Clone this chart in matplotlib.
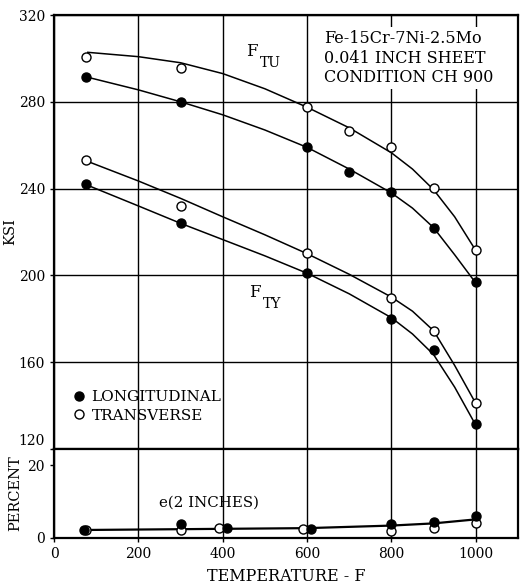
import matplotlib
matplotlib.use('Agg')
import matplotlib.pyplot as plt
import matplotlib.transforms as mtransforms
from matplotlib.lines import Line2D

plt.rcParams['font.family'] = ['DejaVu Serif']

# measured points
ftu_t_x = [75, 300, 600, 700, 800, 900, 1000]
ftu_t_y = [300.5, 295.5, 277.5, 266.5, 259, 240.5, 211.5]
ftu_l_x = [75, 300, 600, 700, 800, 900, 1000]
ftu_l_y = [291.5, 280, 259, 247.5, 238.5, 222, 197]

fty_t_x = [75, 300, 600, 800, 900, 1000]
fty_t_y = [253, 232, 210.5, 189.5, 174.5, 141]
fty_l_x = [75, 300, 600, 800, 900, 1000]
fty_l_y = [242, 224, 201, 180, 165.5, 131.5]

elong_l_x = [70, 300, 410, 610, 800, 900, 1000]
elong_l_y = [2.2, 3.8, 2.8, 2.5, 3.8, 4.5, 6.0]
elong_t_x = [75, 300, 390, 590, 800, 900, 1000]
elong_t_y = [2.2, 2.2, 2.8, 2.5, 1.9, 2.7, 4.0]

# faired curves
curve_x = [80, 200, 300, 400, 500, 600, 700, 800, 850, 900, 950, 1000]
ftu_t_curve = [302.8, 300.8, 298, 293, 286, 277.5, 268, 256.5, 249, 239.5, 227, 211.5]
ftu_l_curve = [291.3, 285.5, 280, 274, 267, 259, 249, 238, 231, 222, 209.5, 196.5]
fty_t_curve = [252.5, 243.5, 235.5, 227, 218.7, 210, 200.5, 190, 183.5, 174.5, 158.5, 141]
fty_l_curve = [241.5, 232, 224, 216.5, 209, 201, 191.5, 180.5, 173, 163.5, 148.5, 131]

elong_curve_x = [80, 600, 800, 900, 1000]
elong_curve_y = [2.2, 2.7, 3.4, 4.0, 5.1]

xticks = [0, 200, 400, 600, 800, 1000]
ksi_ticks = [120, 160, 200, 240, 280, 320]
pct_ticks = [0, 20]

fig = plt.figure(figsize=(5.2, 5.84), dpi=100)
ax = fig.add_axes([0.104, 0.2312, 0.892, 0.7431])
ax2 = fig.add_axes([0.104, 0.0788, 0.892, 0.1524], sharex=ax)

lw = 1.1
ms = 6.5
for a in (ax, ax2):
    for s in a.spines.values():
        s.set_linewidth(1.6)
    a.tick_params(direction='out', length=3, width=1, labelsize=10)
    a.set_xlim(0, 1100)
    a.set_xticks(xticks)
    a.grid(True, color='black', linewidth=1.0)
    a.set_axisbelow(True)

ax.set_ylim(120, 320)
ax.set_yticks(ksi_ticks)
ax.tick_params(labelbottom=False, bottom=False)

# curves
ax.plot(curve_x, ftu_t_curve, color='black', lw=lw)
ax.plot(curve_x, ftu_l_curve, color='black', lw=lw)
ax.plot(curve_x, fty_t_curve, color='black', lw=lw)
ax.plot(curve_x, fty_l_curve, color='black', lw=lw)

ax.plot(ftu_t_x, ftu_t_y, 'o', ms=ms, mfc='white', mec='black', mew=1.0)
ax.plot(fty_t_x, fty_t_y, 'o', ms=ms, mfc='white', mec='black', mew=1.0)
ax.plot(ftu_l_x, ftu_l_y, 'o', ms=ms, mfc='black', mec='black')
ax.plot(fty_l_x, fty_l_y, 'o', ms=ms, mfc='black', mec='black')

ax.text(455, 303, 'F', fontsize=12, ha='left', va='center')
ax.text(487, 298, 'TU', fontsize=10, ha='left', va='center')
ax.text(462, 192, 'F', fontsize=12, ha='left', va='center')
ax.text(494, 187, 'TY', fontsize=10, ha='left', va='center')

ax.text(640, 313, 'Fe-15Cr-7Ni-2.5Mo\n0.041 INCH SHEET\nCONDITION CH 900',
        fontsize=11.5, ha='left', va='top', linespacing=1.2,
        bbox=dict(facecolor='white', edgecolor='none', pad=2))

handles = [Line2D([], [], ls='none', marker='o', ms=ms, mfc='black', mec='black'),
           Line2D([], [], ls='none', marker='o', ms=ms, mfc='white', mec='black')]
leg = ax.legend(handles, ['LONGITUDINAL', 'TRANSVERSE'], loc='center left',
                bbox_to_anchor=(0.02, 0.098), frameon=False, fontsize=11,
                handletextpad=0.25, handlelength=1.2, labelspacing=0.3,
                borderaxespad=0)
ax.set_ylabel('KSI', fontsize=10.5, labelpad=1)

# shift the 120 label up a little like the original
for lab in ax.get_yticklabels():
    if lab.get_text() == '120':
        lab.set_transform(lab.get_transform() + mtransforms.ScaledTranslation(0, 7 / 72, fig.dpi_scale_trans))

ax2.set_ylim(0, 24.4)
ax2.set_yticks(pct_ticks)
ax2.grid(False, axis='y')
ax2.plot(elong_curve_x, elong_curve_y, color='black', lw=1.6)
ax2.plot(elong_t_x, elong_t_y, 'o', ms=ms, mfc='white', mec='black', mew=1.0)
ax2.plot(elong_l_x, elong_l_y, 'o', ms=ms, mfc='black', mec='black')
ax2.text(250, 9.6, 'e(2 INCHES)', fontsize=10.8, ha='left', va='center')
ax2.set_ylabel('PERCENT', fontsize=10.5, labelpad=4)
ax2.set_xlabel('TEMPERATURE - F', fontsize=11.5, labelpad=5)

fig.savefig('out.png', dpi=100)
